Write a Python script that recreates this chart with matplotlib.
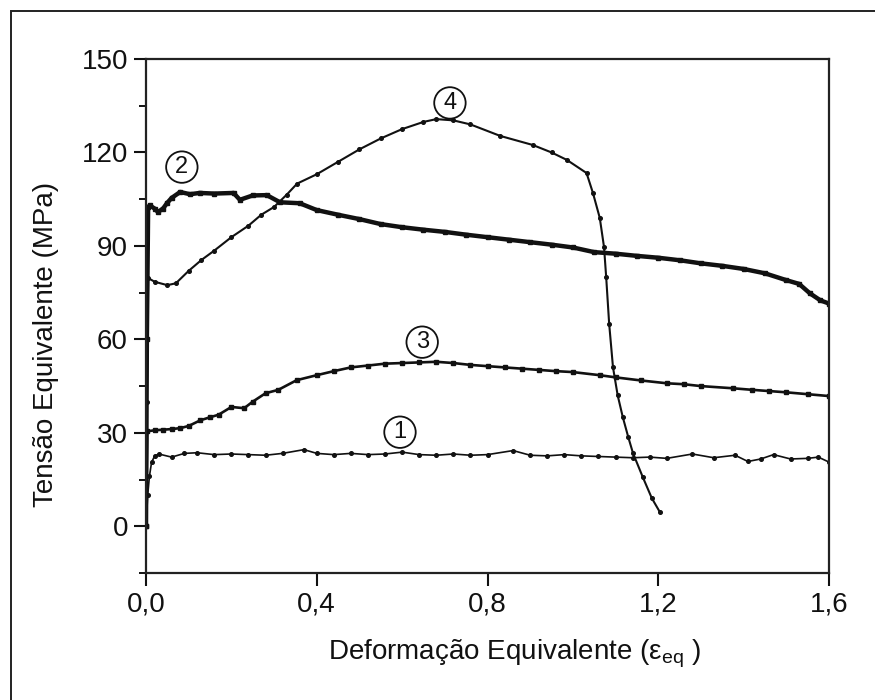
import matplotlib
matplotlib.use("Agg")
import matplotlib.pyplot as plt
from matplotlib.patches import Rectangle
from matplotlib.ticker import MultipleLocator, FixedLocator

plt.rcParams['font.family'] = ['Liberation Sans', 'DejaVu Sans']
plt.rcParams['mathtext.fontset'] = 'custom'
plt.rcParams['mathtext.rm'] = 'Liberation Sans'
plt.rcParams['mathtext.it'] = 'Liberation Sans'

# ---- data ----
eps1 = [0, 0.004, 0.008, 0.013, 0.02, 0.03, 0.06, 0.09, 0.12, 0.16, 0.2, 0.24, 0.28,
        0.32, 0.37, 0.4, 0.44, 0.48, 0.52, 0.56, 0.6, 0.64, 0.68, 0.72, 0.76, 0.8, 0.86,
        0.9, 0.94, 0.98, 1.02, 1.06, 1.1, 1.14, 1.18, 1.22, 1.28, 1.33, 1.38, 1.41, 1.44,
        1.47, 1.51, 1.55, 1.575, 1.6]
sig1 = [0, 10, 16, 20.5, 22.5, 23.2, 22.2, 23.4, 23.6, 23.0, 23.2, 23.0, 22.8,
        23.4, 24.6, 23.4, 23.0, 23.4, 23.0, 23.2, 23.8, 23.0, 22.8, 23.2, 22.8, 23.0, 24.3,
        22.8, 22.6, 23.0, 22.6, 22.4, 22.2, 22.0, 22.2, 21.8, 23.2, 22.0, 22.8, 20.8, 21.6,
        23.0, 21.6, 21.8, 22.2, 20.6]

eps2 = [0, 0.002, 0.005, 0.009, 0.02, 0.028, 0.04, 0.049, 0.06, 0.08, 0.103, 0.126,
        0.16, 0.205, 0.22, 0.25, 0.283, 0.314, 0.36, 0.4, 0.45, 0.5, 0.55, 0.6, 0.65,
        0.7, 0.75, 0.8, 0.85, 0.9, 0.95, 1.0, 1.05, 1.1, 1.15, 1.2, 1.25, 1.3, 1.35,
        1.4, 1.45, 1.5, 1.53, 1.555, 1.58, 1.6]
sig2 = [0, 60, 102.5, 103.0, 102.0, 100.9, 102.0, 103.7, 105.4, 107.3, 106.6, 107.0,
        106.8, 107.0, 104.8, 106.2, 106.3, 104.0, 103.7, 101.5, 100.0, 98.6, 97.0, 96.0, 95.2,
        94.5, 93.6, 92.8, 92.0, 91.2, 90.4, 89.5, 88.0, 87.5, 86.8, 86.2, 85.4, 84.4, 83.6,
        82.6, 81.2, 79.0, 77.8, 74.8, 72.5, 71.5]

eps3 = [0, 0.003, 0.02, 0.04, 0.06, 0.08, 0.1, 0.127, 0.15, 0.17, 0.2, 0.23, 0.25,
        0.28, 0.31, 0.353, 0.4, 0.44, 0.48, 0.52, 0.56, 0.6, 0.64, 0.68, 0.72, 0.76,
        0.8, 0.84, 0.88, 0.92, 0.96, 1.0, 1.063, 1.1, 1.16, 1.22, 1.26, 1.3, 1.375,
        1.42, 1.46, 1.5, 1.55, 1.6]
sig3 = [0, 30.5, 30.8, 31.0, 31.2, 31.5, 32.2, 34.0, 35.0, 35.8, 38.3, 37.9, 40.0,
        42.7, 43.8, 46.9, 48.5, 49.8, 51.0, 51.6, 52.2, 52.4, 52.6, 52.8, 52.4, 51.8,
        51.4, 51.0, 50.6, 50.2, 49.8, 49.5, 48.5, 47.8, 46.8, 45.9, 45.6, 45.0, 44.3,
        43.8, 43.4, 43.0, 42.4, 41.8]

eps4 = [0, 0.002, 0.005, 0.02, 0.05, 0.07, 0.1, 0.13, 0.16, 0.2, 0.24, 0.27, 0.3,
        0.33, 0.354, 0.4, 0.45, 0.5, 0.55, 0.6, 0.65, 0.68, 0.72, 0.76, 0.83, 0.906,
        0.95, 0.986, 1.032, 1.047, 1.063, 1.073, 1.078, 1.085, 1.094, 1.105, 1.117,
        1.13, 1.141, 1.164, 1.185, 1.204]
sig4 = [0, 40, 79.7, 78.5, 77.4, 78.0, 82.0, 85.5, 88.5, 92.8, 96.5, 100.0, 102.5,
        106.5, 110.0, 113.0, 117.0, 121.0, 124.5, 127.5, 129.8, 130.7, 130.3, 129.0, 125.3, 122.4,
        120.0, 117.6, 113.4, 107.0, 99.0, 89.6, 80.0, 65.0, 51.0, 42.0, 35.0,
        28.5, 23.4, 15.7, 9.0, 4.5]

xticks = [0.0, 0.4, 0.8, 1.2, 1.6]
xticklabels = ['0,0', '0,4', '0,8', '1,2', '1,6']
yticks = [0, 30, 60, 90, 120, 150]

labels = ['1', '2', '3', '4']
label_pos = [(0.595, 30.2), (0.084, 115.3), (0.647, 59.1), (0.712, 135.9)]

# ---- figure ----
fig = plt.figure(figsize=(8.75, 7.0), dpi=100)
fig.patches.append(Rectangle((11/875, -0.1), 1.2, 1 - 11/700 + 0.1, transform=fig.transFigure,
                             fill=False, edgecolor='#222222', linewidth=1.4))
ax = fig.add_axes([146/875, 1 - 573/700, (829 - 146)/875, (573 - 59)/700])

col = '#111111'
ax.plot(eps1, sig1, '-', color=col, lw=1.2, marker='o', ms=2.6)
ax.plot(eps3, sig3, '-', color=col, lw=1.9, marker='s', ms=2.6)
ax.plot(eps4, sig4, '-', color=col, lw=1.5, marker='o', ms=2.6)
ax.plot(eps2, sig2, '-', color=col, lw=3.2, marker='s', ms=3.4)

for t, (x, y) in zip(labels, label_pos):
    ax.text(x, y, t, fontsize=17, ha='center', va='center', color=col,
            bbox=dict(boxstyle='circle,pad=0.2', fc='none', ec=col, lw=1.3))

ax.set_xlim(0, 1.6)
ax.set_ylim(-15, 150)
ax.xaxis.set_major_locator(FixedLocator(xticks))
ax.set_xticklabels(xticklabels)
ax.yaxis.set_major_locator(FixedLocator(yticks))
ax.yaxis.set_minor_locator(MultipleLocator(15))
ax.tick_params(axis='both', which='major', direction='out', length=9, width=1.5,
               labelsize=20, colors='#111111', pad=4)
ax.tick_params(axis='y', which='minor', direction='out', length=5, width=1.3)
ax.tick_params(axis='x', which='minor', bottom=False)
for s in ax.spines.values():
    s.set_linewidth(1.6)
    s.set_color('#222222')

ax.set_xlabel('Deformação Equivalente (ε$_{\\mathregular{eq}}$ )', fontsize=20, color='#111111')
ax.xaxis.set_label_coords(0.54, -0.125)
ax.set_ylabel('Tensão Equivalente (MPa)', fontsize=20, color='#111111')
ax.yaxis.set_label_coords(-0.128, 0.445)

fig.savefig('out.png', dpi=100)
